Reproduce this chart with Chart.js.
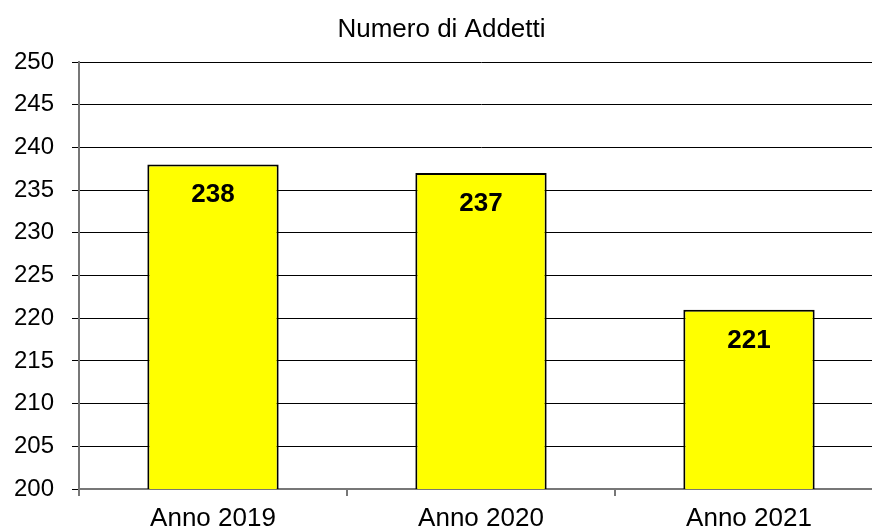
<!DOCTYPE html>
<html>
<head>
<meta charset="utf-8">
<script src="https://cdn.jsdelivr.net/npm/chart.js@4/dist/chart.umd.min.js"></script>
<style>
  html, body { margin: 0; padding: 0; background: #fff; overflow: hidden; }
  #wrap { width: 884px; height: 529px; }
</style>
</head>
<body>
<div id="wrap"><canvas id="c" width="884" height="529"></canvas></div>
<script>
const categories = ["Anno 2019", "Anno 2020", "Anno 2021"];
const addetti = [238, 237, 221];
const chartTitle = "Numero di Addetti";
const yMin = 200, yMax = 250, yStep = 5;

const FONT = "'Liberation Sans', Arial, sans-serif";

const barLabels = {
  id: 'barLabels',
  afterDatasetsDraw(chart) {
    const ctx = chart.ctx;
    const meta = chart.getDatasetMeta(0);
    ctx.save();
    ctx.font = "bold 26px " + FONT;
    ctx.fillStyle = '#000';
    ctx.textAlign = 'center';
    ctx.textBaseline = 'alphabetic';
    meta.data.forEach((bar, i) => {
      ctx.fillText(String(chart.data.datasets[0].data[i]), bar.x, bar.y + 38);
    });
    ctx.restore();
  }
};

new Chart(document.getElementById('c'), {
  type: 'bar',
  data: {
    labels: categories,
    datasets: [{
      data: addetti,
      backgroundColor: '#ffff00',
      borderColor: '#000',
      borderWidth: 2,
      borderSkipped: false,
      categoryPercentage: 1.0,
      barPercentage: 0.49
    }]
  },
  options: {
    responsive: false,
    animation: false,
    devicePixelRatio: 1,
    layout: { padding: { left: 0, right: 1, top: 0, bottom: 0 } },
    plugins: {
      legend: { display: false },
      tooltip: { enabled: false },
      title: {
        display: true,
        text: chartTitle,
        color: '#000',
        font: { family: FONT, size: 26, weight: 'normal', lineHeight: 1.2 },
        padding: { top: 14, bottom: 16.8 }
      }
    },
    scales: {
      x: {
        grid: {
          display: true,
          drawOnChartArea: false,
          drawTicks: true,
          tickLength: 7,
          color: '#777',
          lineWidth: 2,
          offset: true
        },
        border: { display: true, color: '#777', width: 2 },
        ticks: {
          color: '#000',
          font: { family: FONT, size: 26, lineHeight: 1.0 },
          padding: 10,
          maxRotation: 0
        },
        afterFit(scale) { scale.height = 40; }
      },
      y: {
        min: yMin,
        max: yMax,
        grid: {
          display: true,
          drawOnChartArea: true,
          drawTicks: true,
          tickLength: 7,
          color: '#000',
          lineWidth: 1
        },
        border: { display: true, color: '#777', width: 2 },
        ticks: {
          stepSize: yStep,
          color: '#000',
          font: { family: FONT, size: 24 },
          padding: 18
        },
        afterFit(scale) { scale.width = 79; }
      }
    }
  },
  plugins: [barLabels]
});
</script>
</body>
</html>
